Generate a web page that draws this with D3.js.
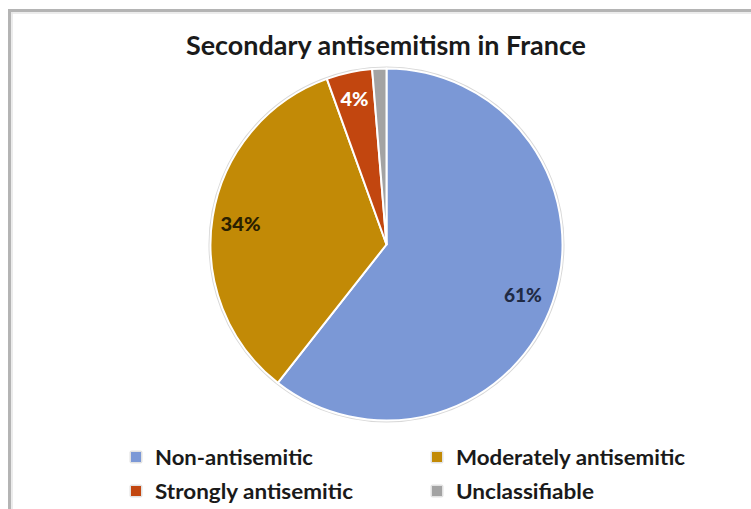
<!DOCTYPE html>
<html><head><meta charset="utf-8">
<script src="https://cdn.jsdelivr.net/npm/d3@7"></script>
<style>body{margin:0;background:#fff}svg{display:block}</style>
</head><body>
<svg id="c" width="751" height="509"></svg>
<script>
const categories = ["Non-antisemitic", "Moderately antisemitic", "Strongly antisemitic", "Unclassifiable"];
const values = [60.6, 33.9, 4.2, 1.3];
const labels = ["61%", "34%", "4%", ""];
const colors = ["#7B98D6", "#C28A06", "#C2460F", "#A3A3A3"];
const labelColors = ["#1F2A44", "#2A2000", "#FFFFFF", "#000"];
const title = "Secondary antisemitism in France";

const svg = d3.select("#c");
const font = "'Lato','DejaVu Sans',sans-serif";

// frame
svg.append("line").attr("x1",8).attr("x2",751).attr("y1",10.5).attr("y2",10.5).attr("stroke","#B4B4B4").attr("stroke-width",3);
svg.append("line").attr("x1",9.5).attr("x2",9.5).attr("y1",9).attr("y2",509).attr("stroke","#B4B4B4").attr("stroke-width",3);
svg.append("line").attr("x1",11).attr("x2",751).attr("y1",13).attr("y2",13).attr("stroke","#E6E6E6").attr("stroke-width",1.5);
svg.append("line").attr("x1",12).attr("x2",12).attr("y1",12).attr("y2",509).attr("stroke","#E6E6E6").attr("stroke-width",1.5);

svg.append("text").attr("x",386).attr("y",55).attr("text-anchor","middle")
  .attr("font-family",font).attr("font-weight",700).attr("font-size",27)
  .attr("textLength",400).attr("lengthAdjust","spacingAndGlyphs")
  .attr("fill","#1a1a1a").text(title);

const cx = 386.5, cy = 244.5, r = 176;
const g = svg.append("g").attr("transform",`translate(${cx},${cy})`);
g.append("circle").attr("r",r+1).attr("fill","none").attr("stroke","#D8D8D8").attr("stroke-width",2);

const data = categories.map((c,i)=>({c, v: values[i], i}));
const pie = d3.pie().value(d=>d.v).sort(null);
const arc = d3.arc().innerRadius(0).outerRadius(r);
const arcs = pie(data);
g.selectAll("path").data(arcs).join("path")
  .attr("d",arc).attr("fill",d=>colors[d.data.i])
  .attr("stroke","#fff").attr("stroke-width",2).attr("stroke-linejoin","round");

const labelArc = [0.82, 0.84, 0.86, 0.8];
const labelW = [38, 40, 28, 0];
g.selectAll("text.lbl").data(arcs).join("text").attr("class","lbl")
  .attr("transform",d=>{
    const a = d3.arc().innerRadius(r*labelArc[d.data.i]).outerRadius(r*labelArc[d.data.i]);
    const p = a.centroid(d); return `translate(${p[0]},${p[1]})`;})
  .attr("text-anchor","middle").attr("dy","0.55em")
  .attr("font-family",font).attr("font-weight",900).attr("font-size",18)
  .attr("textLength",d=>labelW[d.data.i]||null).attr("lengthAdjust","spacingAndGlyphs")
  .attr("fill",d=>labelColors[d.data.i]).text(d=>labels[d.data.i]);

// legend
const lx = [131, 432], ly = [457, 491];
const leg = svg.append("g");
const widths = [158, 229, 198, 138];
data.forEach((d,i)=>{
  const x = lx[i%2], y = ly[Math.floor(i/2)];
  leg.append("rect").attr("x",x-1.5).attr("y",y-6.5).attr("width",13).attr("height",13).attr("fill","#E2E2E2").attr("rx",2);
  leg.append("rect").attr("x",x).attr("y",y-5).attr("width",10).attr("height",10).attr("fill",colors[i]);
  leg.append("text").attr("x",x+24).attr("y",y+8).attr("font-family",font).attr("font-weight",700)
    .attr("font-size",21).attr("fill","#1a1a1a")
    .attr("textLength",widths[i]).attr("lengthAdjust","spacingAndGlyphs").text(d.c);
});
</script>
</body></html>
